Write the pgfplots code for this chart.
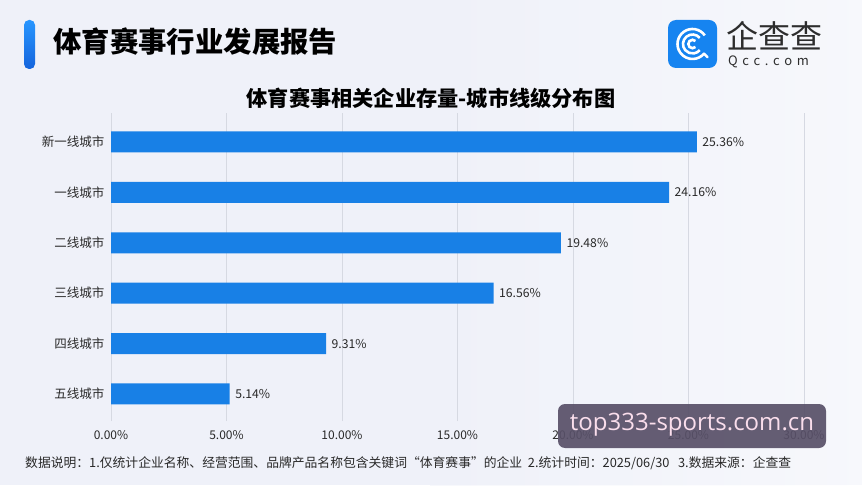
\documentclass[border=0pt]{standalone}
\usepackage{fontspec}
\setmainfont{Noto Sans CJK SC}
\newfontfamily\wmfont{Open Sans}
\usepackage{pgfplots}
\pgfplotsset{compat=1.18}
\usepackage{pgfplotstable}
\definecolor{bg}{RGB}{239,241,249}
\definecolor{barblue}{RGB}{24,128,230}
\definecolor{txt}{RGB}{40,40,40}
\definecolor{gridc}{RGB}{214,217,226}
\definecolor{logoblue}{RGB}{22,132,240}
\definecolor{wmbox}{RGB}{88,80,104}
\definecolor{wmtxt}{RGB}{250,222,236}
\pgfplotstableread{
y x label
0 5.14 5.14\%
1 9.31 9.31\%
2 16.56 16.56\%
3 19.48 19.48\%
4 24.16 24.16\%
5 25.36 25.36\%
}\citydata
\begin{document}
\begin{tikzpicture}[x=1pt,y=1pt]
\useasboundingbox (0,0) rectangle (862,485);
\fill[bg] (0,0) rectangle (862,485);
\shade[left color=bg, right color=white, opacity=0.5] (430,0) rectangle (862,485);
% header bar
\shade[top color={rgb,255:red,40;green,150;blue,255}, bottom color={rgb,255:red,20;green,100;blue,220}, rounded corners=5pt] (24,416) rectangle (35,465);
\node[anchor=west, font=\fontsize{28.4}{30}\selectfont\bfseries, text=black, inner sep=0] at (53,443) {体育赛事行业发展报告};
% logo
\fill[logoblue, rounded corners=8pt] (668,417) rectangle (717,465);
\begin{scope}[shift={(692.5,441)}, white, line width=2.6pt]
\draw (35:15) arc (35:320:15);
\draw (40:9.5) arc (40:320:9.5);
\draw (45:4.2) arc (45:315:4.2);
\draw[line cap=round] (320:15) -- ++(-45:5);
\end{scope}
\node[anchor=west, font=\fontsize{32}{33}\selectfont, text={rgb,255:red,45;green,45;blue,45}, inner sep=0] at (726,449) {企查查};
\node[anchor=west, font=\fontsize{13}{14}\selectfont, text={rgb,255:red,45;green,45;blue,45}, inner sep=0] at (728,423) {Q\hspace{4.6pt}c\hspace{4.6pt}c\hspace{4.6pt}.\hspace{4.6pt}c\hspace{4.6pt}o\hspace{4.6pt}m};
% chart title
\node[font=\fontsize{21.2}{22}\selectfont\bfseries, text=black, inner sep=0] at (431,387) {体育赛事相关企业存量-城市线级分布图};
\begin{axis}[
  at={(111pt,64pt)}, anchor=south west,
  scale only axis, width=693pt, height=308pt,
  xbar, bar width=21pt,
  xmin=0, xmax=30, ymin=-0.536, ymax=5.575,
  axis line style={draw=none},
  xtick={0,5,10,15,20,25,30},
  xticklabels={0.00\%,5.00\%,10.00\%,15.00\%,20.00\%,25.00\%,30.00\%},
  ytick={0,1,2,3,4,5},
  yticklabels={五线城市,四线城市,三线城市,二线城市,一线城市,新一线城市},
  major tick length=0pt,
  xmajorgrids, grid style={gridc, line width=0.7pt},
  ticklabel style={text=txt},
  xticklabel style={font=\fontsize{12}{13}\selectfont, yshift=-6pt},
  yticklabel style={font=\fontsize{12.5}{13}\selectfont, xshift=-3pt},
  nodes near coords, point meta=explicit symbolic,
  every node near coord/.append style={font=\fontsize{12.2}{13}\selectfont, text=txt, anchor=west, xshift=2pt},
]
\addplot[fill=barblue, draw=none] table[x=x, y=y, meta=label] {\citydata};
\end{axis}
% footnote
\node[anchor=west, font=\fontsize{12.8}{14}\selectfont, text=txt, inner sep=0] at (25,22) {数据说明：1.仅统计企业名称、经营范围、品牌产品名称包含关键词“体育赛事”的企业\ \ 2.统计时间：2025/06/30\ \ \ 3.数据来源：企查查};
% watermark
\fill[wmbox, opacity=0.92, rounded corners=7pt] (558,37) rectangle (826,81);
\node[font=\wmfont\fontsize{24}{25}\selectfont, text=wmtxt, inner sep=0] at (692,60) {top333-sports.com.cn};
\end{tikzpicture}
\end{document}
